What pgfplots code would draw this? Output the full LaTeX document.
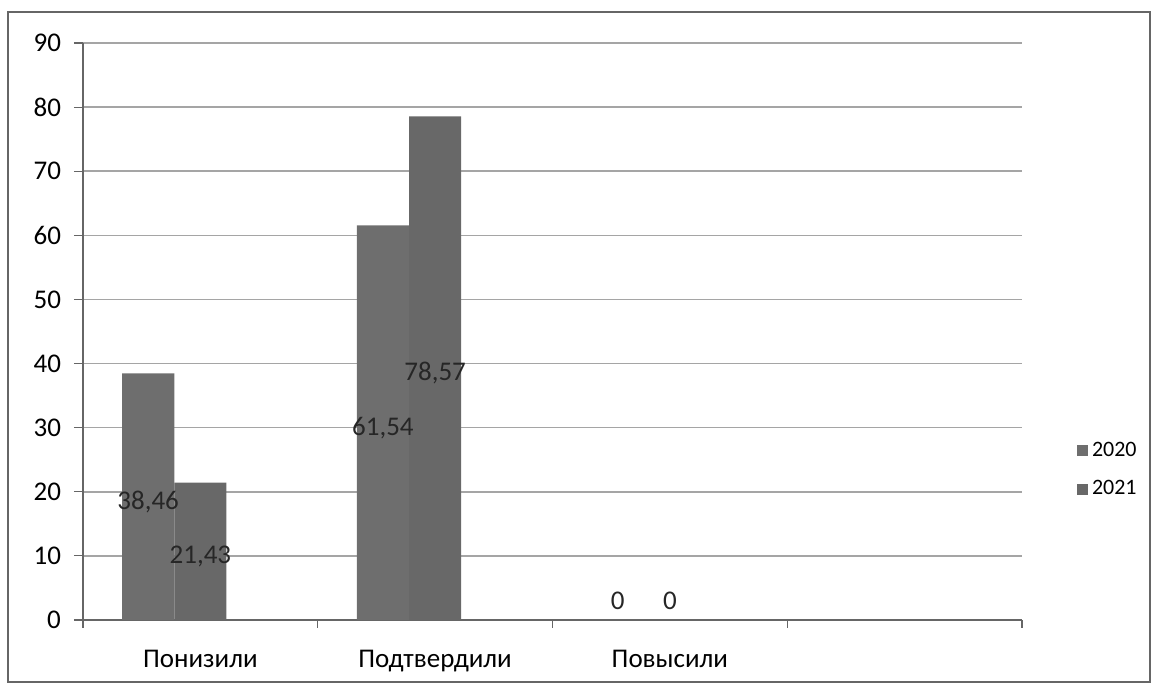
\documentclass[border=0pt]{standalone}
\usepackage{fontspec}
\setmainfont{Carlito}
\usepackage{pgfplots}
\usepackage{pgfplotstable}
\pgfplotsset{compat=1.18}

% values per year, categories at 0,1,2 (fourth slot is empty)
\pgfplotstableread{
x v
0 38.46
1 61.54
2 0
}\datatwenty
\pgfplotstableread{
x v
0 21.43
1 78.57
2 0
}\datatwentyone

\definecolor{barA}{HTML}{6E6E6E}
\definecolor{barB}{HTML}{686868}
\definecolor{gridc}{HTML}{A5A5A5}

\begin{document}
\begin{tikzpicture}
\path[use as bounding box] (-41.5pt,-35pt) rectangle (537pt,310pt);
\draw[gray!80!black, line width=0.6pt] (-37.5pt,-31pt) rectangle (533.5pt,304pt);
\begin{axis}[
    at={(0,0)}, anchor=south west,
    scale only axis, width=469.5pt, height=288.5pt,
    xmin=-0.5, xmax=3.5,
    ymin=0, ymax=90,
    ytick={0,10,...,90},
    xtick={0,1,2},
    xticklabels={Понизили,Подтвердили,Повысили},
    minor xtick={-0.5,0.5,1.5,2.5,3.5},
    major x tick style={draw=none},
    minor tick length=4pt,
    major tick length=4.5pt,
    tick align=outside,
    tick style={gray!80!black, line width=0.6pt},
    axis lines*=left,
    axis line style={gray!80!black, line width=0.6pt, -},
    ymajorgrids,
    grid style={gridc, line width=0.8pt},
    tick label style={font=\fontsize{13.5}{15}\selectfont},
    xticklabel style={yshift=-7pt},
    yticklabel style={xshift=-3pt},
    /pgf/number format/assume math mode=true,
    /pgf/number format/use comma,
    /pgf/number format/fixed,
    /pgf/number format/precision=2,
    legend style={draw=none, fill=none, at={(1.052,0.26)}, anchor=west,
        font=\fontsize{11}{12.5}\selectfont, row sep=6.5pt},
    legend cell align=left,
]
\addplot[ybar, bar width=26.1pt, bar shift=-26.1pt, draw=none, fill=barA,
    legend image code/.code={\fill[barA] (0pt,-2.7pt) rectangle (5.4pt,2.7pt);}]
    table[x=x, y=v] {\datatwenty};
\addplot[ybar, bar width=26.1pt, bar shift=0pt, draw=none, fill=barB,
    legend image code/.code={\fill[barB] (0pt,-2.7pt) rectangle (5.4pt,2.7pt);}]
    table[x=x, y=v] {\datatwentyone};
\legend{2020,2021}

% data labels in the middle of each bar
\addplot[draw=none, mark=none, forget plot, nodes near coords, point meta=explicit,
    every node near coord/.append style={anchor=center, font=\fontsize{13.5}{15}\selectfont, text=black!85}]
    table[x expr=\thisrow{x}-0.2224, y expr={max(\thisrow{v}/2-0.8,3)}, meta=v] {\datatwenty};
\addplot[draw=none, mark=none, forget plot, nodes near coords, point meta=explicit,
    every node near coord/.append style={anchor=center, font=\fontsize{13.5}{15}\selectfont, text=black!85}]
    table[x=x, y expr={max(\thisrow{v}/2-0.8,3)}, meta=v] {\datatwentyone};
\end{axis}
\end{tikzpicture}
\end{document}
